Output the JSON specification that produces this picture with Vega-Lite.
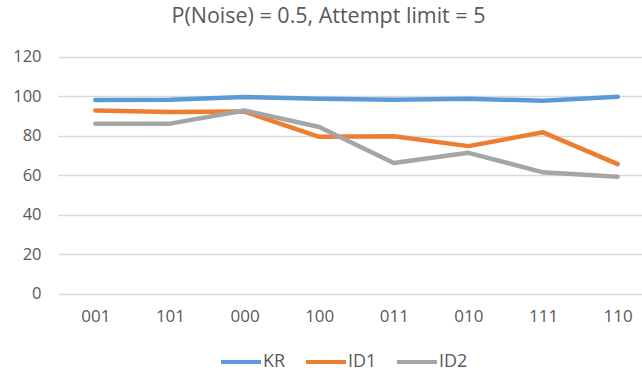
{
  "$schema": "https://vega.github.io/schema/vega-lite/v6.json",
  "autosize": {"type": "none"},
  "padding": {"left": 58, "top": 57, "right": 0, "bottom": 77},
  "width": 597,
  "height": 236.6,
  "background": "white",
  "title": {
    "text": "P(Noise) = 0.5, Attempt limit = 5",
    "anchor": "middle",
    "frame": "group",
    "dx": -28,
    "offset": 4,
    "baseline": "alphabetic",
    "font": "Open Sans",
    "fontSize": 21.5,
    "fontWeight": "normal",
    "color": "#595959"
  },
  "data": {
    "values": [
      {"code": "001", "series": "KR", "value": 98.2},
      {"code": "101", "series": "KR", "value": 98.3},
      {"code": "000", "series": "KR", "value": 99.7},
      {"code": "100", "series": "KR", "value": 98.8},
      {"code": "011", "series": "KR", "value": 98.3},
      {"code": "010", "series": "KR", "value": 98.8},
      {"code": "111", "series": "KR", "value": 97.8},
      {"code": "110", "series": "KR", "value": 99.8},
      {"code": "001", "series": "ID1", "value": 92.9},
      {"code": "101", "series": "ID1", "value": 92.1},
      {"code": "000", "series": "ID1", "value": 92.3},
      {"code": "100", "series": "ID1", "value": 79.5},
      {"code": "011", "series": "ID1", "value": 79.8},
      {"code": "010", "series": "ID1", "value": 74.8},
      {"code": "111", "series": "ID1", "value": 81.8},
      {"code": "110", "series": "ID1", "value": 65.7},
      {"code": "001", "series": "ID2", "value": 86.2},
      {"code": "101", "series": "ID2", "value": 86.2},
      {"code": "000", "series": "ID2", "value": 92.9},
      {"code": "100", "series": "ID2", "value": 84.5},
      {"code": "011", "series": "ID2", "value": 66.2},
      {"code": "010", "series": "ID2", "value": 71.4},
      {"code": "111", "series": "ID2", "value": 61.5},
      {"code": "110", "series": "ID2", "value": 59.3}
    ]
  },
  "mark": {"type": "line", "strokeWidth": 4.5, "strokeJoin": "round", "strokeCap": "round"},
  "encoding": {
    "x": {
      "field": "code",
      "type": "ordinal",
      "sort": ["001", "101", "000", "100", "011", "010", "111", "110"],
      "scale": {"type": "point", "padding": 0.5},
      "axis": {
        "title": null,
        "domain": false,
        "ticks": false,
        "grid": false,
        "labelAngle": 0,
        "labelPadding": 15,
        "labelFont": "Open Sans",
        "labelFontSize": 17,
        "labelColor": "#595959"
      }
    },
    "y": {
      "field": "value",
      "type": "quantitative",
      "scale": {"domain": [0, 120], "nice": false, "zero": true},
      "axis": {
        "title": null,
        "values": [0, 20, 40, 60, 80, 100, 120],
        "domain": false,
        "ticks": false,
        "grid": true,
        "gridColor": "#D9D9D9",
        "gridWidth": 1.3,
        "labelPadding": 17,
        "labelFont": "Open Sans",
        "labelFontSize": 16.5,
        "labelColor": "#595959"
      }
    },
    "color": {
      "field": "series",
      "type": "nominal",
      "sort": ["KR", "ID1", "ID2"],
      "scale": {"domain": ["KR", "ID1", "ID2"], "range": ["#5B9BD5", "#ED7D31", "#A5A5A5"]},
      "legend": {
        "title": null,
        "orient": "none",
        "direction": "horizontal",
        "legendX": 161,
        "legendY": 283,
        "padding": 0,
        "symbolType": "stroke",
        "symbolSize": 1600,
        "symbolStrokeWidth": 4,
        "labelOffset": 0,
        "columnPadding": 12,
        "labelFont": "Open Sans",
        "labelFontSize": 18,
        "labelColor": "#595959"
      }
    }
  },
  "config": {"view": {"stroke": null}}
}
